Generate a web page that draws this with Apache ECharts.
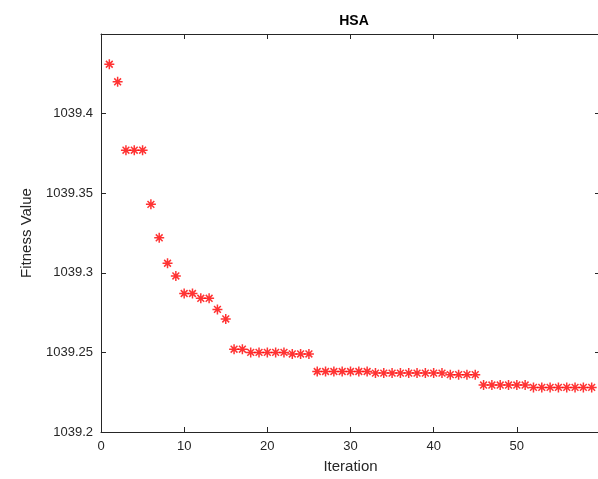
<!DOCTYPE html>
<html lang="en">
<head>
    <meta charset="UTF-8">
    <title>HSA</title>
    <script src="https://cdn.jsdelivr.net/npm/echarts@6.0.0/dist/echarts.min.js"></script>
    <style>
        html, body { margin: 0; padding: 0; background: #fff; }
        #main { width: 598px; height: 479px; }
    </style>
</head>
<body>
    <div id="main"></div>
    <script>
        // fitness value per iteration (1..59)
        const fitness = [
            1039.431, 1039.420, 1039.377, 1039.377, 1039.377,
            1039.343, 1039.322, 1039.306, 1039.298, 1039.287,
            1039.287, 1039.284, 1039.284, 1039.277, 1039.271,
            1039.252, 1039.252, 1039.250, 1039.250, 1039.250,
            1039.250, 1039.250, 1039.249, 1039.249, 1039.249,
            1039.238, 1039.238, 1039.238, 1039.238, 1039.238,
            1039.238, 1039.238, 1039.237, 1039.237, 1039.237,
            1039.237, 1039.237, 1039.237, 1039.237, 1039.237,
            1039.237, 1039.236, 1039.236, 1039.236, 1039.236,
            1039.2295, 1039.2295, 1039.2295, 1039.2295, 1039.2295,
            1039.2295, 1039.228, 1039.228, 1039.228, 1039.228,
            1039.228, 1039.228, 1039.228, 1039.228
        ];
        const xTicks = [0, 10, 20, 30, 40, 50];
        const yTicks = [1039.2, 1039.25, 1039.3, 1039.35, 1039.4];

        const points = fitness.map((v, i) => [i + 1, v]);

        const axisColor = '#262626';
        const font = 'Liberation Sans, Arial, sans-serif';
        // MATLAB-like '*' marker
        const asterisk = 'path://M5,0L5,10M0,5L10,5M1.6,1.6L8.4,8.4M1.6,8.4L8.4,1.6';

        const boxAxis = {
            show: true,
            axisLine: { show: true, onZero: false, lineStyle: { color: axisColor, width: 1 } },
            axisLabel: { show: false },
            splitLine: { show: false }
        };

        const chart = echarts.init(document.getElementById('main'));
        chart.setOption({
            animation: false,
            title: {
                text: 'HSA',
                left: 349,
                textAlign: 'center',
                top: 9,
                textStyle: { fontFamily: font, fontSize: 14, fontWeight: 'bold', color: '#000' }
            },
            // plot box runs just past the right edge of the window
            grid: { left: 101, top: 34, width: 499, bottom: 47, outerBoundsMode: 'none', containLabel: false },
            xAxis: [{
                type: 'value',
                min: 0,
                max: 60,
                interval: 10,
                name: 'Iteration',
                nameLocation: 'middle',
                nameGap: 27,
                nameTextStyle: { fontFamily: font, fontSize: 15, color: axisColor },
                axisLine: { onZero: false, lineStyle: { color: axisColor, width: 1 } },
                axisTick: { inside: true, length: 5, customValues: xTicks, lineStyle: { color: axisColor } },
                axisLabel: { customValues: xTicks, margin: 8, fontFamily: font, fontSize: 13, color: axisColor },
                splitLine: { show: false }
            }, Object.assign({}, boxAxis, {
                type: 'value', position: 'top', min: 0, max: 60, interval: 10,
                axisTick: { inside: true, length: 5, customValues: xTicks, lineStyle: { color: axisColor } }
            })],
            yAxis: [{
                type: 'value',
                min: 1039.2,
                max: 1039.45,
                interval: 0.05,
                name: 'Fitness Value',
                nameLocation: 'middle',
                nameGap: 67,
                nameTextStyle: { fontFamily: font, fontSize: 15, color: axisColor },
                axisLine: { show: true, onZero: false, lineStyle: { color: axisColor, width: 1 } },
                axisTick: { show: true, inside: true, length: 5, customValues: yTicks, lineStyle: { color: axisColor } },
                axisLabel: {
                    customValues: yTicks, margin: 8, fontFamily: font, fontSize: 13, color: axisColor,
                    formatter: v => String(+v.toFixed(2))
                },
                splitLine: { show: false }
            }, Object.assign({}, boxAxis, {
                type: 'value', position: 'right', min: 1039.2, max: 1039.45, interval: 0.05,
                axisTick: { show: true, inside: true, length: 5, customValues: yTicks, lineStyle: { color: axisColor } }
            })],
            series: [{
                type: 'scatter',
                data: points,
                symbol: asterisk,
                symbolSize: 10,
                itemStyle: { color: '#ff0000', borderColor: '#ff0000', borderWidth: 1.5 }
            }]
        });
    </script>
</body>
</html>
